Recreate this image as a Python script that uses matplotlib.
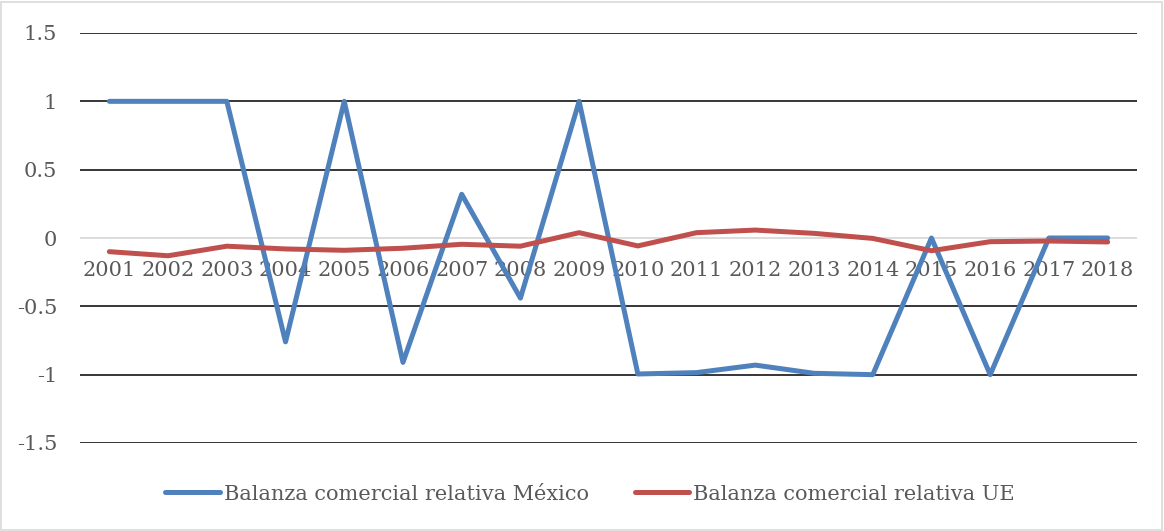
import matplotlib.pyplot as plt

# ===== Data =====
years = [str(y) for y in range(2001, 2019)]
mexico = [1.0, 1.0, 1.0, -0.76, 1.0, -0.91, 0.32, -0.44, 1.0,
          -0.995, -0.985, -0.93, -0.99, -1.0, 0.0, -1.0, 0.0, 0.0]
ue = [-0.10, -0.13, -0.06, -0.08, -0.09, -0.075, -0.046, -0.06, 0.039,
      -0.058, 0.039, 0.058, 0.034, -0.003, -0.093, -0.027, -0.022, -0.029]
yticks = [-1.5, -1, -0.5, 0, 0.5, 1, 1.5]
ytick_labels = ["-1.5", "-1", "-0.5", "0", "0.5", "1", "1.5"]

text_color = "#595959"
plt.rcParams["font.family"] = ["DejaVu Serif"]

# ===== Plot =====
fig = plt.figure(figsize=(11.64, 5.31), dpi=100)
ax = fig.add_axes([80 / 1164, 1 - 443 / 531, (1137 - 80) / 1164, (443 - 33) / 531])

x = range(len(years))
ax.plot(x, mexico, color="#4F81BD", lw=3.6, label="Balanza comercial relativa México",
        solid_capstyle="round", zorder=3)
ax.plot(x, ue, color="#C0504D", lw=3.6, label="Balanza comercial relativa UE",
        solid_capstyle="round", zorder=3)

ax.set_xlim(-0.5, len(years) - 0.5)
ax.set_ylim(-1.5, 1.5)

# Horizontal gridlines (the zero line is the light category axis)
for v in yticks:
    if v != 0:
        ax.axhline(v, color="black", lw=1.1, zorder=1)
ax.axhline(0, color="#d9d9d9", lw=1.3, zorder=1)

ax.set_yticks(yticks)
ax.set_yticklabels(ytick_labels)
ax.set_xticks(list(x))
ax.set_xticklabels(years)
ax.tick_params(axis="y", length=0, pad=16.5, labelsize=15, labelcolor=text_color)

for s in ax.spines.values():
    s.set_visible(False)

# Place x labels just under the zero line
ax.spines["bottom"].set_position(("data", 0))
ax.tick_params(axis="x", length=0, pad=16.5, labelsize=15, labelcolor=text_color)

fig.legend(loc="center", bbox_to_anchor=(590 / 1164, 1 - 494 / 531), ncol=2,
           frameon=False, fontsize=15, labelcolor=text_color, handlelength=2.6,
           handletextpad=0.2, columnspacing=2.2)

# Light chart border
fig.patches.append(plt.Rectangle((0.001, 0.002), 0.997, 0.995, transform=fig.transFigure,
                                 fill=False, edgecolor="#d9d9d9", lw=1.2))

plt.savefig("out.png", dpi=100)
